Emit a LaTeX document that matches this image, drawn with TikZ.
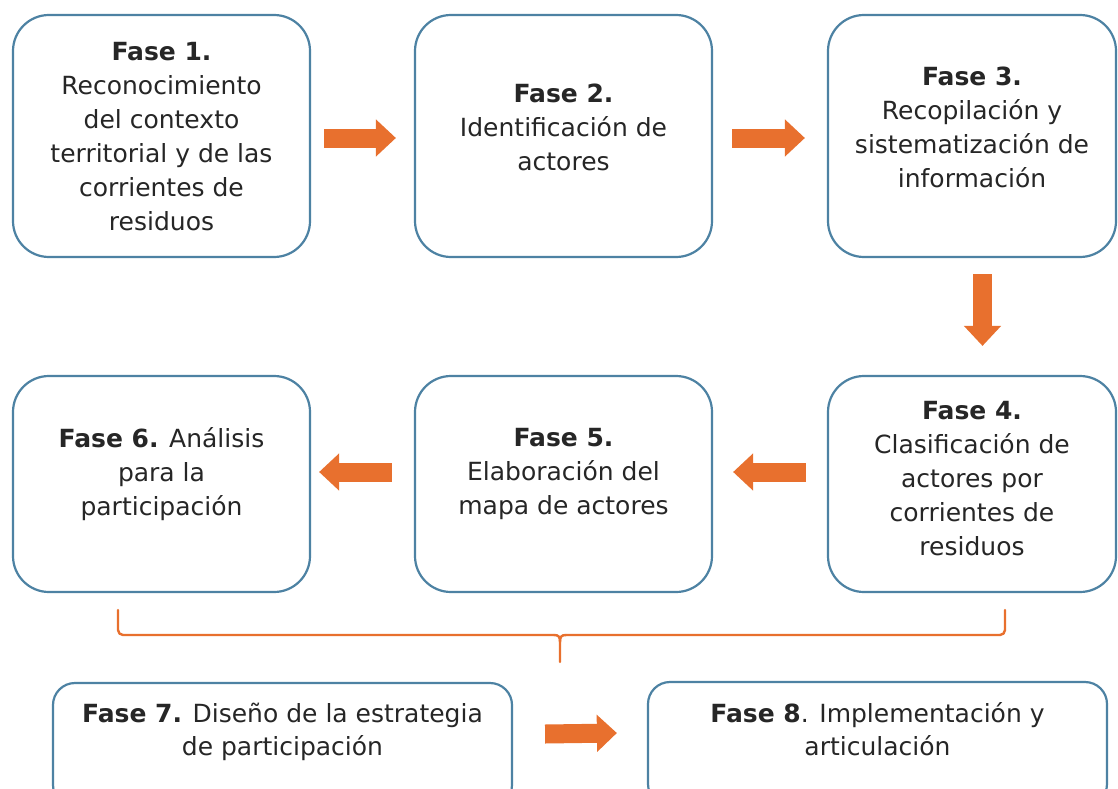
\documentclass[tikz,border=0pt]{standalone}
\usepackage{fontspec}
\setmainfont{DejaVu Sans}
\usetikzlibrary{arrows.meta,calc}
\definecolor{boxblue}{HTML}{4D82A3}
\definecolor{arrorange}{HTML}{E8702E}
\definecolor{txt}{HTML}{262626}
\begin{document}
\begin{tikzpicture}[x=1pt,y=-1pt,
  phase/.style={draw=boxblue, line width=2.2pt, rounded corners=36pt, fill=white, inner sep=0pt},
  phasewide/.style={phase, rounded corners=22pt},
  label/.style={align=center, text=txt, font=\fontsize{25}{34}\selectfont, inner sep=0pt},
  fatarrow/.style={draw=arrorange, line width=19pt, -{Triangle[length=20pt,width=36pt]}},
  brace/.style={draw=arrorange, line width=2.4pt, line cap=round, line join=round}]
\clip (0,0) rectangle (1118,789);
\fill[white] (0,0) rectangle (1118,789);
% boxes
\node[phase, minimum width=297pt, minimum height=242pt] (b1) at (161.5,136) {};
\node[phase, minimum width=297pt, minimum height=242pt] (b2) at (563.5,136) {};
\node[phase, minimum width=288pt, minimum height=242pt] (b3) at (972,136) {};
\node[phase, minimum width=288pt, minimum height=216pt] (b4) at (972,484) {};
\node[phase, minimum width=297pt, minimum height=216pt] (b5) at (563.5,484) {};
\node[phase, minimum width=297pt, minimum height=216pt] (b6) at (161.5,484) {};
\node[phasewide, minimum width=459pt, minimum height=124pt] (b7) at (282.5,745) {};
\node[phasewide, minimum width=459pt, minimum height=124pt] (b8) at (877.5,744) {};
% texts
\node[label] (t1) at (161.5,136.5) {\textbf{Fase 1.}\\Reconocimiento\\del contexto\\territorial y de las\\corrientes de\\residuos};
\node[label] (t2) at (563.5,127.5) {\textbf{Fase 2.}\\Identificación de\\actores};
\node[label] (t3) at (972,127.5) {\textbf{Fase 3.}\\Recopilación y\\sistematización de\\información};
\node[label] (t4) at (972,478.5) {\textbf{Fase 4.}\\Clasificación de\\actores por\\corrientes de\\residuos};
\node[label] (t5) at (563.5,474) {\textbf{Fase 5.}\\Elaboración del\\mapa de actores};
\node[label] (t6) at (161.5,474) {\textbf{Fase 6.} Análisis\\para la\\participación};
\node[label, font=\fontsize{25}{33}\selectfont] (t7) at (282.5,731.5) {\textbf{Fase 7.} Diseño de la estrategia\\de participación};
\node[label, font=\fontsize{25}{33}\selectfont] (t8) at (877.5,729) {\textbf{Fase 8}. Implementación y\\articulación};
% arrows
\draw[fatarrow] ([shift={(13,2)}]b1.east) -- ([shift={(-18,2)}]b2.west);
\draw[fatarrow] ([shift={(19,2)}]b2.east) -- ([shift={(-22,2)}]b3.west);
\draw[fatarrow] ([shift={(10.5,16)}]b3.south) -- ([shift={(10.5,-29)}]b4.north);
\draw[fatarrow] ([shift={(-21,-12)}]b4.west) -- ([shift={(20,-12)}]b5.east);
\draw[fatarrow] ([shift={(-22,-12)}]b5.west) -- ([shift={(8,-12)}]b6.east);
\draw[fatarrow] ([shift={(32,-11)}]b7.east) -- ([shift={(-30,-11)}]b8.west);
% brace
\coordinate (bl) at (118,610);
\coordinate (br) at (1005,610);
\coordinate (tip) at (560,662);
\draw[brace, rounded corners=5pt] (bl) -- (118,635) -- (554,635);
\draw[brace] (554,635) .. controls (559,635) and (560,637) .. (560,642) -- (tip);
\draw[brace, rounded corners=5pt] (br) -- (1005,635) -- (566,635);
\draw[brace] (566,635) .. controls (561,635) and (560,637) .. (560,642);
\end{tikzpicture}
\end{document}
